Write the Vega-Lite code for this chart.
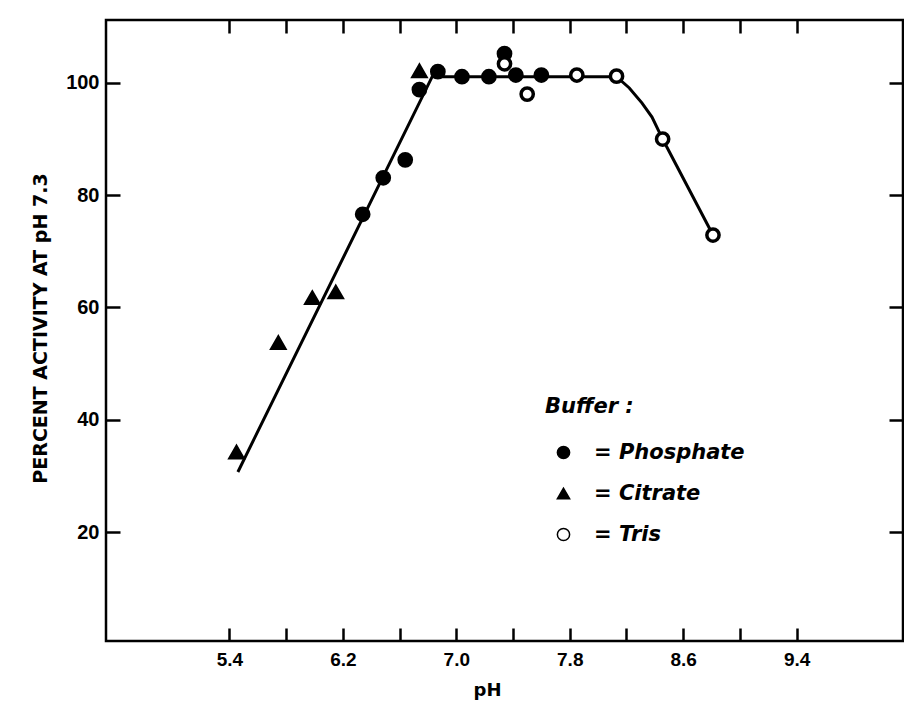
{
  "$schema": "https://vega.github.io/schema/vega-lite/v6.json",
  "width": 797,
  "height": 621,
  "autosize": {"type": "none"},
  "padding": {"left": 106, "top": 20, "right": 1, "bottom": 68},
  "background": "white",
  "config": {
    "view": {"stroke": "black", "strokeWidth": 2.5},
    "axis": {"grid": false, "domain": false, "tickColor": "black", "tickWidth": 2.5, "labelColor": "black", "titleColor": "black", "zindex": 1}
  },
  "resolve": {"axis": {"x": "independent", "y": "independent"}},
  "layer": [
    {
      "data": {"values": [
        {"pH": 5.46, "activity": 30.7},
        {"pH": 6.83, "activity": 101.1},
        {"pH": 8.13, "activity": 101.1},
        {"pH": 8.22, "activity": 99.1},
        {"pH": 8.31, "activity": 96.4},
        {"pH": 8.38, "activity": 93.9},
        {"pH": 8.455, "activity": 90.0},
        {"pH": 8.81, "activity": 72.9}
      ]},
      "mark": {"type": "line", "color": "black", "strokeWidth": 3},
      "encoding": {
        "x": {"field": "pH", "type": "quantitative", "scale": {"domain": [4.53, 10.15], "nice": false, "zero": false},
          "axis": {"orient": "top", "values": [5.4, 5.8, 6.2, 6.6, 7.0, 7.4, 7.8, 8.2, 8.6, 9.0, 9.4], "labels": false, "title": null, "tickSize": -13, "ticks": true, "tickColor": "#000000", "tickWidth": 2.5}},
        "y": {"field": "activity", "type": "quantitative", "scale": {"domain": [0.6, 111.2], "nice": false, "zero": false},
          "axis": {"orient": "right", "values": [20, 40, 60, 80, 100], "labels": false, "title": null, "tickSize": -14, "tickColor": "#000000"}}
      }
    },
    {
      "data": {"values": [
        {"pH": 5.45, "activity": 34.2, "buffer": "Citrate"},
        {"pH": 5.745, "activity": 53.7, "buffer": "Citrate"},
        {"pH": 5.985, "activity": 61.7, "buffer": "Citrate"},
        {"pH": 6.15, "activity": 62.7, "buffer": "Citrate"},
        {"pH": 6.74, "activity": 102.1, "buffer": "Citrate"},
        {"pH": 6.34, "activity": 76.6, "buffer": "Phosphate"},
        {"pH": 6.485, "activity": 83.1, "buffer": "Phosphate"},
        {"pH": 6.64, "activity": 86.3, "buffer": "Phosphate"},
        {"pH": 6.74, "activity": 98.8, "buffer": "Phosphate"},
        {"pH": 6.87, "activity": 102.0, "buffer": "Phosphate"},
        {"pH": 7.04, "activity": 101.1, "buffer": "Phosphate"},
        {"pH": 7.23, "activity": 101.1, "buffer": "Phosphate"},
        {"pH": 7.34, "activity": 105.2, "buffer": "Phosphate"},
        {"pH": 7.42, "activity": 101.4, "buffer": "Phosphate"},
        {"pH": 7.6, "activity": 101.4, "buffer": "Phosphate"},
        {"pH": 7.34, "activity": 103.4, "buffer": "Tris"},
        {"pH": 7.5, "activity": 98.0, "buffer": "Tris"},
        {"pH": 7.85, "activity": 101.4, "buffer": "Tris"},
        {"pH": 8.13, "activity": 101.2, "buffer": "Tris"},
        {"pH": 8.455, "activity": 90.0, "buffer": "Tris"},
        {"pH": 8.81, "activity": 72.9, "buffer": "Tris"}
      ]},
      "mark": {"type": "point", "stroke": "black", "strokeWidth": 3.5, "size": 150, "opacity": 1, "fillOpacity": 1, "strokeOpacity": 1},
      "encoding": {
        "x": {"field": "pH", "type": "quantitative", "scale": {"domain": [4.53, 10.15], "nice": false, "zero": false},
          "axis": {"orient": "bottom", "values": [5.4, 5.8, 6.2, 6.6, 7.0, 7.4, 7.8, 8.2, 8.6, 9.0, 9.4], "tickSize": -13, "ticks": true, "tickColor": "#000000", "tickWidth": 2.5,
            "labelExpr": "indexof(['5.4','6.2','7.0','7.8','8.6','9.4'], format(datum.value, '.1f')) >= 0 ? format(datum.value, '.1f') : ''",
            "labelFont": "Liberation Sans", "labelFontSize": 19, "labelFontWeight": "bold", "labelPadding": 22,
            "title": "pH", "titleFont": "DejaVu Sans", "titleFontSize": 18, "titleFontWeight": "bold", "titleX": 381, "titleY": 40, "titleBaseline": "top", "titleAlign": "center"}},
        "y": {"field": "activity", "type": "quantitative", "scale": {"domain": [0.6, 111.2], "nice": false, "zero": false},
          "axis": {"orient": "left", "values": [20, 40, 60, 80, 100], "tickSize": -14, "tickColor": "#000000",
            "labelFont": "Liberation Sans", "labelFontSize": 20, "labelFontWeight": "bold", "labelPadding": 21,
            "title": "PERCENT  ACTIVITY  AT pH 7.3", "titleFont": "DejaVu Sans", "titleFontSize": 19, "titleFontWeight": "bold",
            "titleX": -66, "titleY": 308, "titleAngle": -90, "titleBaseline": "middle", "titleAlign": "center"}},
        "shape": {"field": "buffer", "type": "nominal",
          "scale": {"domain": ["Phosphate", "Citrate", "Tris"], "range": ["circle", "triangle-up", "circle"]},
          "legend": {"orient": "none", "legendX": 439, "legendY": 376, "title": "Buffer :", "padding": 0,
            "titleFont": "DejaVu Sans", "titleFontSize": 21, "titleFontWeight": "bold", "titleFontStyle": "italic", "titleColor": "black", "titlePadding": 25,
            "labelFont": "DejaVu Sans", "labelFontSize": 21, "labelFontWeight": "bold", "labelFontStyle": "italic", "labelColor": "black",
            "labelExpr": "'= ' + datum.label", "symbolOffset": 8, "labelOffset": 20, "rowPadding": 19, "symbolSize": 150,
            "encode": {"symbols": {"update": {"stroke": {"value": "black"}, "strokeWidth": {"value": 3.5}, "size": {"value": 150}, "opacity": {"value": 1}}}}}},
        "fill": {"field": "buffer", "type": "nominal",
          "scale": {"domain": ["Phosphate", "Citrate", "Tris"], "range": ["black", "black", "white"]},
          "legend": {"orient": "none", "legendX": 439, "legendY": 376, "title": "Buffer :", "padding": 0,
            "titleFont": "DejaVu Sans", "titleFontSize": 21, "titleFontWeight": "bold", "titleFontStyle": "italic", "titleColor": "black", "titlePadding": 25,
            "labelFont": "DejaVu Sans", "labelFontSize": 21, "labelFontWeight": "bold", "labelFontStyle": "italic", "labelColor": "black",
            "labelExpr": "'= ' + datum.label", "symbolOffset": 8, "labelOffset": 20, "rowPadding": 19, "symbolSize": 150,
            "encode": {"symbols": {"update": {"stroke": {"value": "black"}, "strokeWidth": {"value": 3.5}, "size": {"value": 150}, "opacity": {"value": 1}}}}}}
      }
    }
  ]
}
